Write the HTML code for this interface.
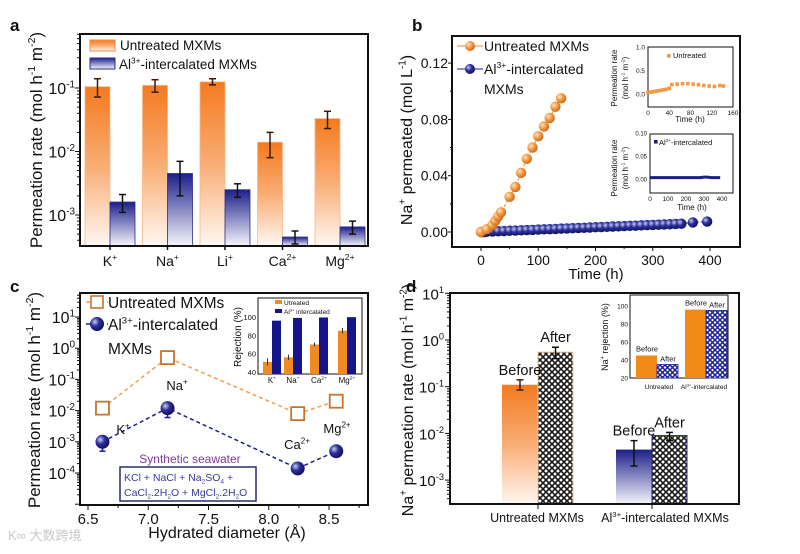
<!DOCTYPE html>
<html><head><meta charset="utf-8"><style>
html,body{margin:0;padding:0;background:#fff;}
svg{display:block;font-family:"Liberation Sans","Noto Sans CJK SC",sans-serif;}
</style></head><body>
<svg id="fig" width="800" height="554" viewBox="0 0 800 554" xmlns="http://www.w3.org/2000/svg">
<defs>
<linearGradient id="gOr" x1="0" y1="0" x2="0" y2="1"><stop offset="0" stop-color="#f47a1f"/><stop offset="0.5" stop-color="#f9ad75"/><stop offset="1" stop-color="#fff8f2"/></linearGradient>
<linearGradient id="gBl" x1="0" y1="0" x2="0" y2="1"><stop offset="0" stop-color="#1c1f8a"/><stop offset="1" stop-color="#f6f6fc"/></linearGradient>
<radialGradient id="sOr" cx="0.35" cy="0.35" r="0.7"><stop offset="0" stop-color="#fde3c8"/><stop offset="0.5" stop-color="#f39a3e"/><stop offset="1" stop-color="#c8661a"/></radialGradient>
<radialGradient id="sBl" cx="0.35" cy="0.35" r="0.7"><stop offset="0" stop-color="#c9cdf2"/><stop offset="0.45" stop-color="#2a2f9a"/><stop offset="1" stop-color="#0d0f55"/></radialGradient>
<pattern id="hatchK" width="6" height="6" patternUnits="userSpaceOnUse"><rect width="6" height="6" fill="#fff"/><path d="M0,0L6,6M6,0L0,6" stroke="#1a1a1a" stroke-width="1.6"/></pattern>
<pattern id="hatchB" width="5" height="5" patternUnits="userSpaceOnUse"><rect width="5" height="5" fill="#fff"/><path d="M0,0L5,5M5,0L0,5" stroke="#1b1f92" stroke-width="1.5"/></pattern>
</defs>
</svg>
<script>
// ---------- Panel a data ----------
const aCats = ['K^{+}','Na^{+}','Li^{+}','Ca^{2+}','Mg^{2+}'];
const aUnt = [0.105, 0.11, 0.125, 0.014, 0.033];
const aUntLo = [0.072, 0.086, 0.112, 0.008, 0.023];
const aUntHi = [0.14, 0.135, 0.14, 0.02, 0.043];
const aAl = [0.0016, 0.0045, 0.0025, 0.00045, 0.00065];
const aAlLo = [0.0011, 0.002, 0.0019, 0.00035, 0.0005];
const aAlHi = [0.0021, 0.007, 0.0031, 0.00056, 0.0008];
const aTicks = [-3, -2, -1];
// ---------- Panel b data ----------
const bUntT = [0, 10, 20, 25, 30, 35, 50, 60, 70, 80, 90, 100, 110, 120, 130, 140];
const bUntV = [0, 0.002, 0.005, 0.008, 0.011, 0.014, 0.025, 0.032, 0.042, 0.052, 0.060, 0.068, 0.075, 0.081, 0.089, 0.095];
const bAlT = [0, 3, 6, 10, 20, 30, 40, 50, 60, 70, 80, 90, 100, 110, 120, 130, 140, 150, 160, 170, 180, 190, 200, 210, 220, 230, 240, 250, 260, 270, 280, 290, 300, 310, 320, 330, 340, 350, 370, 395];
const bAlV = [0, 0, 0, 0.0002, 0.0004, 0.0005, 0.0007, 0.0009, 0.001, 0.0012, 0.0014, 0.0015, 0.0017, 0.0019, 0.002, 0.0022, 0.0024, 0.0025, 0.0027, 0.0029, 0.003, 0.0032, 0.0034, 0.0035, 0.0037, 0.0039, 0.004, 0.0042, 0.0044, 0.0045, 0.0047, 0.0049, 0.005, 0.0052, 0.0054, 0.0055, 0.0057, 0.0059, 0.0068, 0.0074];
const bYTicks = [0, 0.04, 0.08, 0.12];
const bXTicks = [0, 100, 200, 300, 400];
const bIn1T = [0, 5, 10, 15, 20, 25, 30, 35, 40, 45, 55, 65, 75, 85, 95, 105, 115, 125, 135, 142];
const bIn1V = [0.03, 0.04, 0.05, 0.06, 0.07, 0.08, 0.09, 0.1, 0.12, 0.2, 0.21, 0.22, 0.22, 0.21, 0.2, 0.18, 0.17, 0.16, 0.18, 0.17];
const bIn2T = [0, 20, 40, 60, 80, 100, 120, 140, 160, 180, 200, 220, 240, 260, 280, 300, 320, 340, 360, 390];
const bIn2V = [0.003, 0.003, 0.003, 0.003, 0.003, 0.003, 0.003, 0.003, 0.003, 0.003, 0.003, 0.003, 0.003, 0.003, 0.003, 0.004, 0.004, 0.003, 0.003, 0.003];
// ---------- Panel c data ----------
const cD = [6.62, 7.16, 8.24, 8.56];
const cLabels = ['K^{+}', 'Na^{+}', 'Ca^{2+}', 'Mg^{2+}'];
const cUnt = [0.012, 0.5, 0.008, 0.02];
const cUntLo = [0.007, 0.3, 0.007, 0.018];
const cAl = [0.001, 0.012, 0.00014, 0.0005];
const cAlLo = [0.0005, 0.006, 0.0001, 0.00045];
const cXTicks = [6.5, 7.0, 7.5, 8.0, 8.5];
const cYTicks = [1, 0, -1, -2, -3, -4];
const cInCats = ['K^{+}', 'Na^{+}', 'Ca^{2+}', 'Mg^{2+}'];
const cInUnt = [51, 56, 70, 85];
const cInUntErr = [4, 3, 2, 3];
const cInAl = [96, 99, 99.5, 99.8];
// ---------- Panel d data ----------
const dGroups = ['Untreated MXMs', 'Al^{3+}-intercalated MXMs'];
const dBefore = [0.11, 0.0045];
const dBeforeLo = [0.085, 0.002];
const dBeforeHi = [0.14, 0.007];
const dAfter = [0.55, 0.009];
const dAfterLo = [0.4, 0.007];
const dAfterHi = [0.7, 0.0105];
const dYTicks = [1, 0, -1, -2, -3];
const dInBefore = [45, 96];
const dInAfter = [35, 95];
const dInTicks = [20, 40, 60, 80, 100];

const NS = 'http://www.w3.org/2000/svg';
const svg = document.getElementById('fig');
function mk(tag, attrs, name, parent) {
  const el = document.createElementNS(NS, tag);
  for (const k in attrs) el.setAttribute(k, attrs[k]);
  
  
  (parent || svg).appendChild(el);
  return el;
}
function txt(x, y, str, size, name, anchor, extra, parent) {
  const a = {x: x, y: y, 'font-size': size, fill: '#111', 'text-anchor': anchor || 'start'};
  if (extra) for (const k in extra) a[k] = extra[k];
  const t = mk('text', a, name, parent);
  const re = /\^\{([^}]*)\}|_\{([^}]*)\}/g;
  let last = 0, m, shift = 0;
  const addSpan = (s, dy, fs) => {
    const sp = document.createElementNS(NS, 'tspan');
    if (dy) sp.setAttribute('dy', dy);
    if (fs) sp.setAttribute('font-size', fs);
    sp.textContent = s;
    t.appendChild(sp);
  };
  while ((m = re.exec(str)) !== null) {
    if (m.index > last) { addSpan(str.slice(last, m.index), shift ? -shift : 0); shift = 0; }
    const sup = m[1] !== undefined;
    const d = sup ? -size * 0.42 : size * 0.25;
    addSpan(sup ? m[1] : m[2], d - shift, size * 0.62);
    shift = d;
    last = re.lastIndex;
  }
  if (last < str.length) addSpan(str.slice(last), shift ? -shift : 0);
  return t;
}
function line(x1, y1, x2, y2, name, stroke, w, dash, parent) {
  const a = {x1: x1, y1: y1, x2: x2, y2: y2, stroke: stroke || '#111', 'stroke-width': w || 1};
  if (dash) a['stroke-dasharray'] = dash;
  return mk('line', a, name, parent);
}
function errbar(x, y1, y2, name, w, stroke) {
  const g = mk('g', {}, name);
  const c = stroke || '#111';
  line(x, y1, x, y2, 'error-line', c, 1.5, null, g);
  line(x - (w || 4), y1, x + (w || 4), y1, 'error-cap', c, 1.5, null, g);
  line(x - (w || 4), y2, x + (w || 4), y2, 'error-cap', c, 1.5, null, g);
}
const L = Math.log10;

// ================= PANEL A =================
txt(10, 31, 'a', 17, 'panel-a-label', 'start', {'font-weight': 'bold'});
const aL = 80, aR = 368, aT = 34, aB = 246;
const ya = v => 88 - (L(v) + 1) * 63.5;
const xa = i => 110 + i * 57.5;
aCats.forEach((c, i) => {
  const cx = xa(i);
  mk('rect', {x: cx - 25, y: ya(aUnt[i]), width: 25, height: aB - ya(aUnt[i]), fill: 'url(#gOr)', stroke: '#f7b88a', 'stroke-width': 0.8}, 'bar-untreated-' + i);
  mk('rect', {x: cx, y: ya(aAl[i]), width: 25, height: aB - ya(aAl[i]), fill: 'url(#gBl)', stroke: '#2a2d8f', 'stroke-width': 0.8}, 'bar-al-' + i);
  errbar(cx - 12.5, ya(aUntHi[i]), ya(aUntLo[i]), 'error-bar-untreated-' + i, 3.5, '#3a1a0a');
  errbar(cx + 12.5, ya(aAlHi[i]), ya(aAlLo[i]), 'error-bar-al-' + i, 3.5);
  line(cx, aB, cx, aB + 4, 'x-tick', '#111', 1.5);
  txt(cx, aB + 20, c, 14, 'x-tick-label-' + i, 'middle');
});
mk('rect', {x: aL, y: aT, width: aR - aL, height: aB - aT, fill: 'none', stroke: '#111', 'stroke-width': 2}, 'panel-a-frame');
for (let d = -4; d <= 0; d++) {
  for (let k = 1; k < 10; k++) {
    const y = ya(k * Math.pow(10, d));
    if (y < aT || y > aB) continue;
    line(aL - (k === 1 ? 5 : 3), y, aL, y, k === 1 ? 'y-major-tick' : 'y-minor-tick', '#111', 1);
  }
}
aTicks.forEach(p => txt(aL - 5, ya(Math.pow(10, p)) + 6, '10^{' + p + '}', 16, 'y-tick-label', 'end'));
txt(0, 0, 'Permeation rate (mol h^{-1} m^{-2})', 17, 'y-axis-title', 'middle', {transform: 'translate(42,140) rotate(-90)'});
mk('rect', {x: 90, y: 40, width: 25, height: 11, fill: 'url(#gOr)', stroke: '#f08a40'}, 'legend-swatch-untreated');
txt(120, 50, 'Untreated MXMs', 13.5, 'legend-label-untreated');
mk('rect', {x: 90, y: 58, width: 25, height: 11, fill: 'url(#gBl)', stroke: '#2a2d8f'}, 'legend-swatch-al');
txt(119, 69, 'Al^{3+}-intercalated MXMs', 13.5, 'legend-label-al');

// ================= PANEL B =================
txt(412, 31, 'b', 17, 'panel-b-label', 'start', {'font-weight': 'bold'});
const bL = 452, bR = 740, bT = 36, bB = 247;
const xb = t => 481 + t * 0.5725;
const yb = v => 232 - v * 1407.5;
mk('rect', {x: bL, y: bT, width: bR - bL, height: bB - bT, fill: 'none', stroke: '#111', 'stroke-width': 2}, 'panel-b-frame');
bYTicks.forEach(v => { line(bL - 4, yb(v), bL, yb(v), 'y-tick'); txt(bL - 4, yb(v) + 5, v.toFixed(2), 14, 'y-tick-label', 'end'); });
[0.02, 0.06, 0.10].forEach(v => line(bL - 2, yb(v), bL, yb(v), 'y-minor-tick'));
bXTicks.forEach(t => { line(xb(t), bB, xb(t), bB + 4, 'x-tick'); txt(xb(t), bB + 18, String(t), 14, 'x-tick-label', 'middle'); });
[50, 150, 250, 350].forEach(t => line(xb(t), bB, xb(t), bB + 2, 'x-minor-tick'));
txt(596, 279, 'Time (h)', 15, 'x-axis-title', 'middle');
txt(0, 0, 'Na^{+} permeated (mol L^{-1})', 16, 'y-axis-title', 'middle', {transform: 'translate(412,140) rotate(-90)'});
mk('polyline', {points: bAlT.map((t, i) => xb(t) + ',' + yb(bAlV[i])).join(' '), fill: 'none', stroke: '#1c1f8a', 'stroke-width': 1, 'stroke-dasharray': '3,2'}, 'series-al-line');
bAlT.forEach((t, i) => mk('circle', {cx: xb(t), cy: yb(bAlV[i]), r: 5.2, fill: 'url(#sBl)'}, 'point-al'));
mk('polyline', {points: bUntT.map((t, i) => xb(t) + ',' + yb(bUntV[i])).join(' '), fill: 'none', stroke: '#e88a30', 'stroke-width': 1, 'stroke-dasharray': '3,2'}, 'series-untreated-line');
bUntT.forEach((t, i) => mk('circle', {cx: xb(t), cy: yb(bUntV[i]), r: 5.2, fill: 'url(#sOr)'}, 'point-untreated'));
line(457, 46, 483, 46, 'legend-line-untreated', '#e88a30', 1);
mk('circle', {cx: 470, cy: 46, r: 5, fill: 'url(#sOr)'}, 'legend-marker-untreated');
txt(484, 51, 'Untreated MXMs', 14, 'legend-label-untreated');
line(457, 69, 483, 69, 'legend-line-al', '#1c1f8a', 1);
mk('circle', {cx: 470, cy: 69, r: 5, fill: 'url(#sBl)'}, 'legend-marker-al');
txt(484, 74, 'Al^{3+}-intercalated', 14, 'legend-label-al');
txt(484, 94, 'MXMs', 14, 'legend-label-al-line2');
// inset 1
const i1L = 648, i1R = 733, i1T = 47, i1B = 107;
const xi1 = t => i1L + t * (i1R - i1L) / 160;
const yi1 = v => 94 - v * 47;
mk('rect', {x: i1L, y: i1T, width: i1R - i1L, height: i1B - i1T, fill: '#fff', stroke: '#111', 'stroke-width': 1}, 'inset-untreated-frame');
bIn1T.forEach((t, i) => mk('rect', {x: xi1(t) - 1.8, y: yi1(bIn1V[i]) - 1.8, width: 3.6, height: 3.6, fill: '#ef9a45'}, 'inset-point-untreated'));
[0, 0.5, 1.0].forEach(v => txt(i1L - 3, yi1(v) + 2.5, v.toFixed(1), 6.5, 'inset-y-tick-label', 'end'));
[0, 40, 80, 120, 160].forEach(t => txt(xi1(t), i1B + 8, String(t), 6.5, 'inset-x-tick-label', 'middle'));
txt(690, 122, 'Time (h)', 8, 'inset-x-title', 'middle');
txt(0, 0, 'Permeation rate', 8, 'inset-y-title', 'middle', {transform: 'translate(617,78) rotate(-90)'});
txt(0, 0, '(mol h^{-1} m^{-2})', 8, 'inset-y-title-unit', 'middle', {transform: 'translate(628,78) rotate(-90)'});
mk('rect', {x: 667, y: 54, width: 3.6, height: 3.6, fill: '#ef9a45'}, 'inset-legend-marker');
txt(673, 58, 'Untreated', 7.5, 'inset-legend-label');
// inset 2
const i2L = 650, i2R = 733, i2T = 134, i2B = 193;
const xi2 = t => i2L + t * 0.18;
const yi2 = v => 179 - v * 460;
mk('rect', {x: i2L, y: i2T, width: i2R - i2L, height: i2B - i2T, fill: '#fff', stroke: '#111', 'stroke-width': 1}, 'inset-al-frame');
mk('polyline', {points: bIn2T.map((t, i) => xi2(t) + ',' + yi2(bIn2V[i])).join(' '), fill: 'none', stroke: '#1c1f8a', 'stroke-width': 3}, 'inset-series-al');
[0, 0.05, 0.10].forEach(v => txt(i2L - 3, yi2(v) + 2.5, v.toFixed(2), 6, 'inset-y-tick-label', 'end'));
[0, 100, 200, 300, 400].forEach(t => txt(xi2(t), i2B + 8, String(t), 6.5, 'inset-x-tick-label', 'middle'));
txt(692, 210, 'Time (h)', 8, 'inset-x-title', 'middle');
txt(0, 0, 'Permeation rate', 8, 'inset-y-title', 'middle', {transform: 'translate(617,168) rotate(-90)'});
txt(0, 0, '(mol h^{-1} m^{-2})', 8, 'inset-y-title-unit', 'middle', {transform: 'translate(628,168) rotate(-90)'});
mk('rect', {x: 654, y: 140, width: 3.6, height: 3.6, fill: '#1c1f8a'}, 'inset-legend-marker');
txt(659, 145, 'Al^{3+}-intercalated', 7.5, 'inset-legend-label');

// ================= PANEL C =================
txt(10, 292, 'c', 17, 'panel-c-label', 'start', {'font-weight': 'bold'});
const cL = 80, cR = 368, cT = 293, cB = 505;
const xc = d => 88 + (d - 6.5) * 120.5;
const yc = v => 317 - (L(v) - 1) * 31.2;
mk('rect', {x: cL, y: cT, width: cR - cL, height: cB - cT, fill: 'none', stroke: '#111', 'stroke-width': 2}, 'panel-c-frame');
for (let d = -6; d <= 1; d++) for (let k = 1; k < 10; k++) {
  const y = yc(k * Math.pow(10, d));
  if (y < cT || y > cB) continue;
  line(cL - (k === 1 ? 5 : 3), y, cL, y, k === 1 ? 'y-major-tick' : 'y-minor-tick');
}
cYTicks.forEach(p => txt(cL - 5, yc(Math.pow(10, p)) + 6, '10^{' + p + '}', 16, 'y-tick-label', 'end'));
cXTicks.forEach(d => { line(xc(d), cB, xc(d), cB + 5, 'x-tick'); txt(xc(d), cB + 19, d.toFixed(1), 15, 'x-tick-label', 'middle'); });
[6.75, 7.25, 7.75, 8.25, 8.75].forEach(d => line(xc(d), cB, xc(d), cB + 3, 'x-minor-tick'));
txt(227, 538, 'Hydrated diameter (Å)', 16, 'x-axis-title', 'middle');
txt(0, 0, 'Permeation rate (mol h^{-1} m^{-2})', 17, 'y-axis-title', 'middle', {transform: 'translate(40,400) rotate(-90)'});
mk('polyline', {points: cD.map((d, i) => xc(d) + ',' + yc(cUnt[i])).join(' '), fill: 'none', stroke: '#f0a050', 'stroke-width': 1.5, 'stroke-dasharray': '4,3'}, 'series-untreated-line');
mk('polyline', {points: cD.map((d, i) => xc(d) + ',' + yc(cAl[i])).join(' '), fill: 'none', stroke: '#1c1f8a', 'stroke-width': 1.5, 'stroke-dasharray': '4,3'}, 'series-al-line');
cD.forEach((d, i) => {
  line(xc(d), yc(cUnt[i]), xc(d), yc(cUntLo[i]), 'error-bar-untreated', '#b06020', 1.2);
  mk('rect', {x: xc(d) - 6.5, y: yc(cUnt[i]) - 6.5, width: 13, height: 13, fill: '#fff', stroke: '#c8742a', 'stroke-width': 1.8}, 'point-untreated-' + i);
  errbar(xc(d), yc(cAl[i]), yc(cAlLo[i]), 'error-bar-al-' + i, 3, '#1c1f8a');
  mk('circle', {cx: xc(d), cy: yc(cAl[i]), r: 7, fill: 'url(#sBl)'}, 'point-al-' + i);
});
const cLabPos = [[123, 434], [177, 390], [297, 449], [337, 433]];
cLabels.forEach((s, i) => txt(cLabPos[i][0], cLabPos[i][1], s, 13, 'ion-label-' + i, 'middle'));
line(86, 302, 108, 302, 'legend-line-untreated', '#f0a050', 1.5, '4,3');
mk('rect', {x: 91, y: 296, width: 12, height: 12, fill: '#fff', stroke: '#c8742a', 'stroke-width': 1.6}, 'legend-marker-untreated');
txt(108, 308, 'Untreated MXMs', 15.5, 'legend-label-untreated');
line(86, 324, 108, 324, 'legend-line-al', '#1c1f8a', 1.5, '4,3');
mk('circle', {cx: 97, cy: 324, r: 7, fill: 'url(#sBl)'}, 'legend-marker-al');
txt(108, 330, 'Al^{3+}-intercalated', 15.5, 'legend-label-al');
txt(108, 354, 'MXMs', 15.5, 'legend-label-al-line2');
txt(190, 463, 'Synthetic seawater', 12, 'seawater-title', 'middle', {fill: '#7a3a9a'});
mk('rect', {x: 120, y: 467, width: 136, height: 34, fill: '#fff', stroke: '#2a2d70', 'stroke-width': 1.5}, 'seawater-box');
txt(124, 481, 'KCl + NaCl + Na_{2}SO_{4} +', 10.5, 'seawater-line1', 'start', {fill: '#3a3a9a'});
txt(124, 496, 'CaCl_{2}.2H_{2}O + MgCl_{2}.2H_{2}O', 10.5, 'seawater-line2', 'start', {fill: '#3a3a9a'});
// inset c
const ciL = 258, ciR = 362, ciT = 298, ciB = 374;
const yci = v => 372 - (v - 40) * 0.9167;
const cInX = [272, 293, 319, 347];
mk('rect', {x: ciL, y: ciT, width: ciR - ciL, height: ciB - ciT, fill: '#fff', stroke: '#111', 'stroke-width': 1}, 'inset-c-frame');
cInCats.forEach((c, i) => {
  mk('rect', {x: cInX[i] - 9, y: yci(cInUnt[i]), width: 9, height: ciB - yci(cInUnt[i]), fill: '#f28a22'}, 'inset-bar-untreated-' + i);
  mk('rect', {x: cInX[i], y: yci(cInAl[i]), width: 9, height: ciB - yci(cInAl[i]), fill: '#14148c'}, 'inset-bar-al-' + i);
  line(cInX[i] - 4.5, yci(cInUnt[i] + cInUntErr[i]), cInX[i] - 4.5, yci(cInUnt[i] - cInUntErr[i]), 'inset-error-bar', '#333', 1);
  txt(cInX[i], ciB + 9, c, 8, 'inset-x-tick-label', 'middle');
});
[40, 60, 80, 100].forEach(v => txt(ciL - 2, yci(v) + 3, String(v), 7.5, 'inset-y-tick-label', 'end'));
txt(0, 0, 'Rejection (%)', 10, 'inset-y-title', 'middle', {transform: 'translate(241,337) rotate(-90)'});
mk('rect', {x: 275, y: 300, width: 7, height: 4, fill: '#f28a22'}, 'inset-legend-untreated');
txt(284, 305, 'Utreated', 6.5, 'inset-legend-label-untreated');
mk('rect', {x: 275, y: 309, width: 7, height: 4, fill: '#14148c'}, 'inset-legend-al');
txt(284, 314, 'Al^{3+} intercalated', 6.5, 'inset-legend-label-al');

// ================= PANEL D =================
txt(406, 292, 'd', 17, 'panel-d-label', 'start', {'font-weight': 'bold'});
const dL = 450, dR = 739, dT = 293, dB = 504;
const yd = v => 340 - L(v) * 46.7;
const dX = [538, 652];
dGroups.forEach((g, i) => {
  const cx = dX[i];
  mk('rect', {x: cx - 36, y: yd(dBefore[i]), width: 36, height: dB - yd(dBefore[i]), fill: i === 0 ? 'url(#gOr)' : 'url(#gBl)'}, 'bar-before-' + i);
  mk('rect', {x: cx, y: yd(dAfter[i]), width: 35, height: dB - yd(dAfter[i]), fill: 'url(#hatchK)', stroke: i === 0 ? '#f7c89a' : '#2a2d8f', 'stroke-width': 1}, 'bar-after-' + i);
  errbar(cx - 18, yd(dBeforeHi[i]), yd(dBeforeLo[i]), 'error-bar-before-' + i, 3.5, i === 0 ? '#3a1a0a' : '#111');
  errbar(cx + 17.5, yd(dAfterHi[i]), yd(dAfterLo[i]), 'error-bar-after-' + i, 3.5);
  txt(cx - 18, yd(dBeforeHi[i]) - 5, 'Before', 14.5, 'label-before-' + i, 'middle');
  txt(cx + 17.5, yd(dAfterHi[i]) - 5, 'After', 14.5, 'label-after-' + i, 'middle');
  line(cx, dB, cx, dB + 5, 'x-tick');
});
txt(537, 522, dGroups[0], 12.5, 'x-tick-label-0', 'middle');
txt(665, 522, dGroups[1], 12.5, 'x-tick-label-1', 'middle');
mk('rect', {x: dL, y: dT, width: dR - dL, height: dB - dT, fill: 'none', stroke: '#111', 'stroke-width': 2}, 'panel-d-frame');
for (let d = -4; d <= 1; d++) for (let k = 1; k < 10; k++) {
  const y = yd(k * Math.pow(10, d));
  if (y < dT - 0.5 || y > dB) continue;
  line(dL - (k === 1 ? 5 : 3), y, dL, y, k === 1 ? 'y-major-tick' : 'y-minor-tick');
}
dYTicks.forEach(p => txt(dL - 6, yd(Math.pow(10, p)) + 6, '10^{' + p + '}', 15, 'y-tick-label', 'end'));
txt(0, 0, 'Na^{+} permeation rate (mol h^{-1} m^{-2})', 16, 'y-axis-title', 'middle', {transform: 'translate(413,400) rotate(-90)'});
// inset d
const diL = 630, diR = 728, diT = 295, diB = 378;
const ydi = v => 378 - (v - 20) * 0.9;
const dInX = [657, 706];
mk('rect', {x: diL, y: diT, width: diR - diL, height: diB - diT, fill: '#fff', stroke: '#111', 'stroke-width': 1}, 'inset-d-frame');
dInBefore.forEach((v, i) => {
  mk('rect', {x: dInX[i] - 21, y: ydi(v), width: 21, height: diB - ydi(v), fill: '#f28a16'}, 'inset-bar-before-' + i);
  mk('rect', {x: dInX[i], y: ydi(dInAfter[i]), width: 21, height: diB - ydi(dInAfter[i]), fill: 'url(#hatchB)', stroke: '#1b1f92', 'stroke-width': 0.8}, 'inset-bar-after-' + i);
  txt(dInX[i] - 10, ydi(v) - 4, 'Before', 7.5, 'inset-label-before-' + i, 'middle');
  txt(dInX[i] + 11, ydi(dInAfter[i]) - 3, 'After', 7.5, 'inset-label-after-' + i, 'middle');
});
dInTicks.forEach(v => txt(diL - 2, ydi(v) + 2.5, String(v), 6.5, 'inset-y-tick-label', 'end'));
txt(659, 389, 'Untreated', 6.5, 'inset-x-label-0', 'middle');
txt(704, 389, 'Al^{3+}-intercalated', 6.5, 'inset-x-label-1', 'middle');
txt(0, 0, 'Na^{+} rejection (%)', 9, 'inset-y-title', 'middle', {transform: 'translate(608,337) rotate(-90)'});

// watermark
txt(8, 540, 'K∞ 大数跨境', 13, 'watermark', 'start', {fill: '#c8c8c8'});
</script>
</body></html>
